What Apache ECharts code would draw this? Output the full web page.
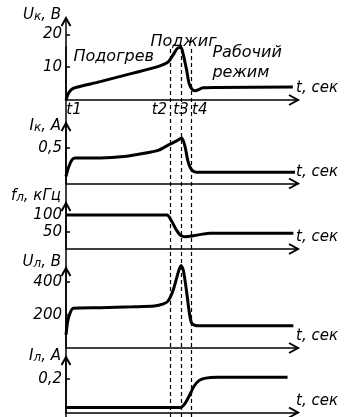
<!DOCTYPE html>
<html>
<head>
<meta charset="utf-8">
<style>
  html, body { margin: 0; padding: 0; background: #fff; }
  #chart { width: 347px; height: 417px; }
</style>
<script src="https://cdn.jsdelivr.net/npm/echarts@6/dist/echarts.min.js"></script>
</head>
<body>
<div id="chart"></div>
<script>
// Time in arbitrary units, t1 = 0
const eventTimes = [0, 44.8, 49.6, 54.2];
const eventNames = ['t1', 't2', 't3', 't4'];

// Cathode voltage Uк, V
const cathodeVoltage = [[0, 0], [1.0, 2.0], [2.5, 3.3], [4.6, 3.9], [14.7, 5.6], [28.9, 8.2], [39.2, 10.1],
  [44.0, 11.6], [46.1, 13.7], [48.3, 15.9], [49.6, 16.0], [50.4, 14.3], [52.0, 9.1], [53.0, 5.2],
  [54.2, 3.4], [55.6, 2.8], [59.1, 3.7], [65.0, 3.8], [97.8, 4.0]];
// Cathode current Iк, A
const cathodeCurrent = [[0, 0.10], [1.0, 0.22], [2.5, 0.33], [3.9, 0.36], [14.7, 0.36], [25, 0.38], [36.2, 0.44],
  [40, 0.47], [44.0, 0.54], [47.7, 0.60], [49.9, 0.64], [51.3, 0.52], [52.6, 0.31], [54.2, 0.19],
  [56.3, 0.16], [98.7, 0.16]];
// Lamp frequency fл, kHz
const lampFrequency = [[0, 100], [43.5, 100], [45.5, 82], [47.5, 57], [49.4, 40], [51.5, 36], [55, 39],
  [62, 46], [98, 46]];
// Lamp voltage Uл, V
const lampVoltage = [[0, 79], [0.7, 159], [1.7, 210], [3.1, 241], [14.7, 244], [28.9, 250], [38, 255],
  [42, 268], [44, 285], [46.3, 355], [48.4, 460], [49.6, 500], [50.6, 470], [52, 340], [53.1, 220],
  [54.2, 150], [56.3, 135], [98, 135]];
// Lamp current Iл, A
const lampCurrent = [[0, 0.03], [49.4, 0.03], [50.8, 0.045], [52.2, 0.075], [53.7, 0.115], [55.1, 0.155],
  [57.3, 0.19], [60.2, 0.205], [65.2, 0.21], [95.5, 0.21]];

// Tick values of each vertical axis
const cathodeVoltageTicks = [10, 20];
const cathodeCurrentTicks = [0.5];
const lampFrequencyTicks = [50, 100];
const lampVoltageTicks = [200, 400];
const lampCurrentTicks = [0.2];

// Axis titles
const axisTitles = ['{m|U}{s|к}{m|, В}', '{m|I}{s|к}{m|, А}', '{m|f}{s|л}{m|, кГц}', '{m|U}{s|л}{m|, В}', '{m|I}{s|л}{m|, А}'];
const timeTitle = 't, сек';

// Stage captions and their anchors in (time, Uк) coordinates
const stageNames = ['Подогрев', 'Поджиг', 'Рабочий', 'режим'];
const stageAnchors = [[3.0, 13.1], [36.2, 17.7], [62.9, 14.3], [62.9, 8.2]];

const seriesData = [cathodeVoltage, cathodeCurrent, lampFrequency, lampVoltage, lampCurrent];
const tickSets = [cathodeVoltageTicks, cathodeCurrentTicks, lampFrequencyTicks, lampVoltageTicks, lampCurrentTicks];

// Panel geometry
const layout = [
  { top: 18, height: 82, max: 25, nameGap: 3 },
  { top: 123, height: 60.5, max: 0.852, nameGap: -3 },
  { top: 203, height: 46, max: 135, nameGap: 7 },
  { top: 268, height: 80, max: 485, nameGap: 6 },
  { top: 357, height: 55.5, max: 0.331, nameGap: 1 }
];
const LEFT = 66, WIDTH = 232;

const FONT = 'DejaVu Sans';
const txt = { fontFamily: FONT, fontStyle: 'italic', color: '#000' };
// open chevron arrow (zero-area path, so only the stroke is visible)
const arrow = 'emptypath://M0,9 L5,0 L10,9 L5,0 Z';
const axisLineStyle = { color: '#000', width: 1.5 };
const fmt = v => String(v).replace('.', ',');

const grids = [], xAxes = [], yAxes = [], series = [];

layout.forEach((p, i) => {
  grids.push({ left: LEFT, width: WIDTH, top: p.top, height: p.height, outerBoundsMode: 'none' });

  const xAxis = {
    type: 'value', gridIndex: i, min: 0, max: 100,
    axisLine: { show: true, onZero: false, symbol: ['none', arrow], symbolSize: [10, 9],
      symbolOffset: [0, -4.5], lineStyle: axisLineStyle },
    axisTick: { show: false },
    splitLine: { show: false },
    axisLabel: { show: false },
    name: timeTitle, nameLocation: 'end', nameGap: -2, nameMoveOverlap: false,
    nameTextStyle: Object.assign({}, txt, { fontSize: 15, align: 'left', verticalAlign: 'bottom', padding: [0, 0, 4, 0] })
  };
  if (i === 0) {
    const keys = ['a', 'b', 'c', 'd'];
    const tok = Object.assign({}, txt, { fontSize: 15 });
    xAxis.axisLabel = Object.assign({}, txt, {
      show: true, fontSize: 15, customValues: eventTimes, margin: 3, hideOverlap: false,
      formatter: v => {
        const k = eventTimes.indexOf(v);
        return '{' + keys[k] + '|' + eventNames[k] + '}';
      },
      rich: {
        a: Object.assign({}, tok, { padding: [0, 0, 0, 16] }),
        b: Object.assign({}, tok, { padding: [0, 21, 0, 0] }),
        c: Object.assign({}, tok),
        d: Object.assign({}, tok, { padding: [0, 0, 0, 16] })
      }
    });
  }
  xAxes.push(xAxis);

  yAxes.push({
    type: 'value', gridIndex: i, min: 0, max: p.max,
    axisLine: { show: true, onZero: false, symbol: ['none', arrow], symbolSize: [9, 8],
      symbolOffset: [0, -4], lineStyle: axisLineStyle },
    axisTick: { show: true, inside: true, length: 4, customValues: tickSets[i], lineStyle: axisLineStyle },
    axisLabel: Object.assign({}, txt, { show: true, fontSize: 15, margin: 4, customValues: tickSets[i], formatter: fmt, hideOverlap: false }),
    splitLine: { show: false },
    name: axisTitles[i], nameLocation: 'end', nameGap: p.nameGap, nameMoveOverlap: false,
    nameTextStyle: Object.assign({}, txt, {
      fontSize: 15, align: 'right', verticalAlign: 'middle', padding: [0, 5, 0, 0],
      rich: {
        m: Object.assign({}, txt, { fontSize: 15, verticalAlign: 'bottom' }),
        s: Object.assign({}, txt, { fontSize: 12, verticalAlign: 'bottom', padding: [0, 0, 0, 0] })
      }
    })
  });

  const s = {
    type: 'line', xAxisIndex: i, yAxisIndex: i, data: seriesData[i],
    showSymbol: false, smooth: 0.25, clip: false, silent: true,
    lineStyle: { color: '#000', width: 3 }
  };
  if (i === 0) {
    s.markPoint = {
      silent: true, symbol: 'circle', symbolSize: 1, itemStyle: { color: 'rgba(0,0,0,0)' },
      label: Object.assign({}, txt, { show: true, position: 'right', distance: 0, fontSize: 16, formatter: '{b}' }),
      data: stageNames.map((n, k) => ({ name: n, coord: stageAnchors[k] }))
    };
  }
  series.push(s);
});

// Shared overlay: continuous vertical axis and dashed event markers
const ov = layout.length;
grids.push({ left: LEFT, width: WIDTH, top: 47, height: 370, outerBoundsMode: 'none' });
xAxes.push({ type: 'value', gridIndex: ov, min: 0, max: 100, show: false });
yAxes.push({
  type: 'value', gridIndex: ov, min: 0, max: 1,
  axisLine: { show: true, onZero: false, lineStyle: axisLineStyle },
  axisTick: { show: false }, axisLabel: { show: false }, splitLine: { show: false }
});
series.push({
  type: 'line', xAxisIndex: ov, yAxisIndex: ov, data: [[0, 0]], showSymbol: false, silent: true,
  lineStyle: { width: 0 },
  markLine: {
    silent: true, symbol: 'none', label: { show: false },
    lineStyle: { color: '#000', type: [4, 3], width: 1.2 },
    data: eventTimes.slice(1).map(t => ({ xAxis: t }))
  }
});

const chart = echarts.init(document.getElementById('chart'), null, { renderer: 'canvas' });
chart.setOption({
  animation: false,
  backgroundColor: '#fff',
  grid: grids, xAxis: xAxes, yAxis: yAxes, series: series
});
</script>
</body>
</html>
